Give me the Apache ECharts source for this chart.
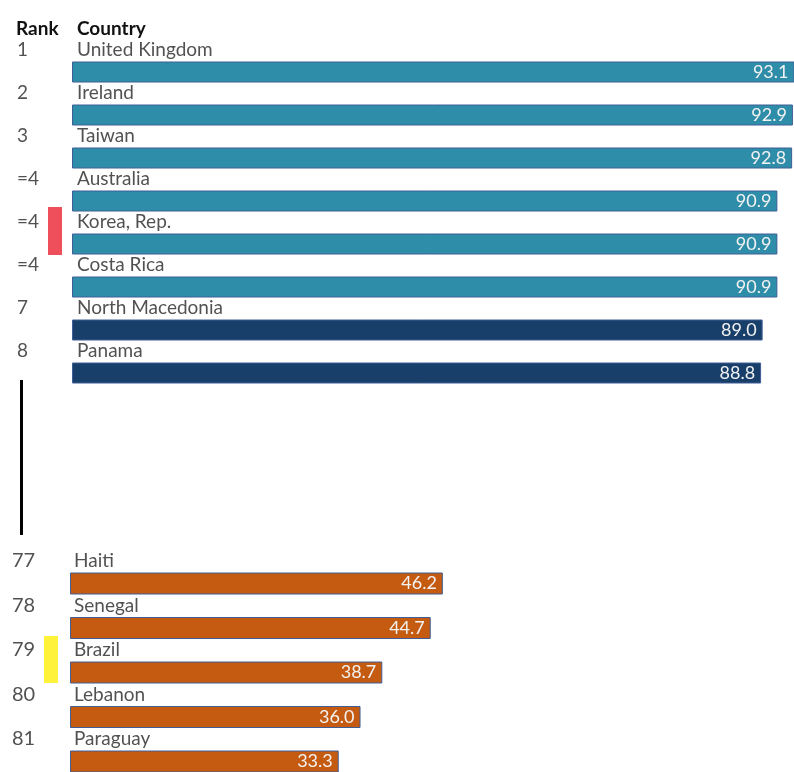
<!DOCTYPE html>
<html>
<head>
<meta charset="utf-8">
<script src="https://cdn.jsdelivr.net/npm/echarts@6/dist/echarts.min.js"></script>
<style>
  html, body { margin: 0; padding: 0; background: #fff; }
  #chart { width: 794px; height: 772px; }
</style>
</head>
<body>
<div id="chart"></div>
<script>
// top of the ranking
const countriesTop = ['United Kingdom', 'Ireland', 'Taiwan', 'Australia', 'Korea, Rep.', 'Costa Rica', 'North Macedonia', 'Panama'];
const ranksTop = ['1', '2', '3', '=4', '=4', '=4', '7', '8'];
const valuesTop = [93.1, 92.9, 92.8, 90.9, 90.9, 90.9, 89.0, 88.8];

// bottom of the ranking
const countriesBottom = ['Haiti', 'Senegal', 'Brazil', 'Lebanon', 'Paraguay'];
const ranksBottom = ['77', '78', '79', '80', '81'];
const valuesBottom = [46.2, 44.7, 38.7, 36.0, 33.3];

const FONT = 'Lato';
const TEAL = '#2E8DA8';
const NAVY = '#173F69';
const ORANGE = '#C55A11';

const myChart = echarts.init(document.getElementById('chart'), null, { renderer: 'canvas' });

function barSeries(idx, values, colorFn, barWidth) {
  return {
    type: 'bar',
    xAxisIndex: idx,
    yAxisIndex: idx,
    data: values,
    barWidth: barWidth,
    itemStyle: {
      color: (p) => colorFn(p.value),
      borderColor: '#3F5E96',
      borderWidth: 1
    },
    label: {
      show: true,
      position: 'insideRight',
      distance: 6,
      color: '#F2F2F2',
      fontFamily: FONT,
      fontSize: 18,
      formatter: (p) => p.value.toFixed(1)
    },
    silent: true
  };
}

function textSeries(idx, names, pos, fontSize) {
  return {
    type: 'scatter',
    xAxisIndex: idx,
    yAxisIndex: idx,
    symbolSize: 0,
    clip: false,
    data: names.map((n, i) => [0, i]),
    label: {
      show: true,
      position: pos,
      align: 'left',
      verticalAlign: 'middle',
      color: '#262626',
      fontFamily: FONT,
      fontSize: fontSize,
      formatter: (p) => names[p.dataIndex]
    },
    silent: true
  };
}

const option = {
  backgroundColor: '#fff',
  animation: false,
  grid: [
    { left: 72, top: 50.5, width: 776, height: 344, outerBoundsMode: 'none' },
    { left: 70, top: 561.25, width: 807, height: 222.5, outerBoundsMode: 'none' }
  ],
  xAxis: [
    { gridIndex: 0, type: 'value', min: 0, max: 100, show: false },
    { gridIndex: 1, type: 'value', min: 0, max: 100, show: false }
  ],
  yAxis: [
    { gridIndex: 0, type: 'category', inverse: true, data: countriesTop, show: false },
    { gridIndex: 1, type: 'category', inverse: true, data: countriesBottom, show: false }
  ],
  graphic: [
    { type: 'text', left: 16, top: 19, style: { text: 'Rank', font: 'bold 19px ' + FONT, fill: '#111' } },
    { type: 'text', left: 77, top: 19, style: { text: 'Country', font: 'bold 19px ' + FONT, fill: '#111' } },
    { type: 'rect', shape: { x: 48, y: 207, width: 14, height: 48 }, style: { fill: '#EF4F5A' } },
    { type: 'rect', shape: { x: 44, y: 636, width: 14, height: 47 }, style: { fill: '#FFF23A' } },
    { type: 'rect', shape: { x: 20, y: 380, width: 3, height: 155 }, style: { fill: '#000' } }
  ],
  series: [
    barSeries(0, valuesTop, (v) => (v >= 90 ? TEAL : NAVY), 21),
    barSeries(1, valuesBottom, () => ORANGE, 22),
    textSeries(0, countriesTop, [5, -22], 19),
    textSeries(0, ranksTop, [-55, -22], 19),
    textSeries(1, countriesBottom, [4, -22.5], 19),
    textSeries(1, ranksBottom, [-58, -22.5], 20)
  ]
};

myChart.setOption(option);
</script>
</body>
</html>
